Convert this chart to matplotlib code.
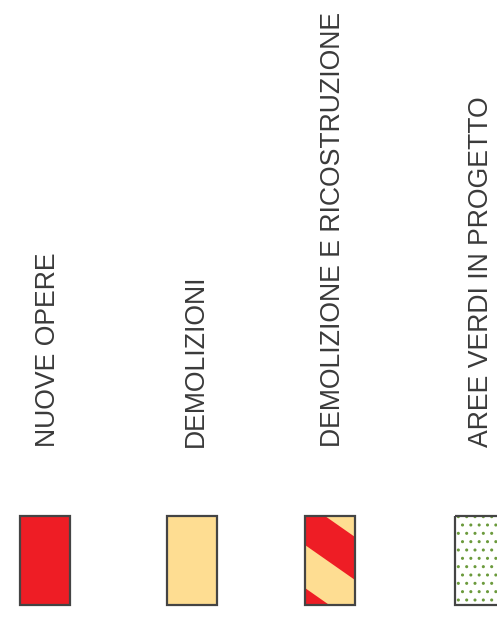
import matplotlib
matplotlib.use("Agg")
import matplotlib.pyplot as plt
from matplotlib.patches import Rectangle, Polygon

# legend entries (label, swatch type)
labels = ["NUOVE OPERE", "DEMOLIZIONI", "DEMOLIZIONE E RICOSTRUZIONE", "AREE VERDI IN PROGETTO"]
kinds = ["red", "yellow", "stripes", "green"]
text_x = [48, 196, 333, 481]
box_x = [20, 167, 305, 455]

RED = "#ee1d25"
YELLOW = "#fedd92"
GREEN = "#6b9a3c"
EDGE = "#444444"

fig = plt.figure(figsize=(4.97, 6.28), dpi=100)
ax = fig.add_axes([0, 0, 1, 1])
ax.set_xlim(0, 497)
ax.set_ylim(628, 0)
ax.axis("off")

box_top, box_h, box_w = 516, 89, 50
text_base = 447

for lab, kind, tx, bx in zip(labels, kinds, text_x, box_x):
    ax.text(tx, text_base, lab, rotation=90, ha="center", va="bottom",
            fontsize=19.2, family=["Liberation Sans", "DejaVu Sans"], color="#3a3a3a")

    frame = Rectangle((bx, box_top), box_w, box_h, facecolor="none",
                      edgecolor=EDGE, lw=1.6, zorder=5)
    if kind == "red":
        ax.add_patch(Rectangle((bx, box_top), box_w, box_h, facecolor=RED, lw=0))
    elif kind == "yellow":
        ax.add_patch(Rectangle((bx, box_top), box_w, box_h, facecolor=YELLOW, lw=0))
    elif kind == "stripes":
        base = Rectangle((bx, box_top), box_w, box_h, facecolor=YELLOW, lw=0)
        ax.add_patch(base)
        slope = 0.7
        period = 86
        for y0 in [box_top - 14 - period, box_top - 14, box_top - 14 + period]:
            pts = [(bx, y0), (bx + box_w, y0 + slope * box_w),
                   (bx + box_w, y0 + 43 + slope * box_w), (bx, y0 + 43)]
            p = Polygon(pts, facecolor=RED, lw=0)
            ax.add_patch(p)
            p.set_clip_path(base)
    else:
        ax.add_patch(Rectangle((bx, box_top), box_w, box_h, facecolor="white",
                               edgecolor=GREEN, hatch="..", lw=0))
    ax.add_patch(frame)

fig.savefig("out.png", dpi=100)
